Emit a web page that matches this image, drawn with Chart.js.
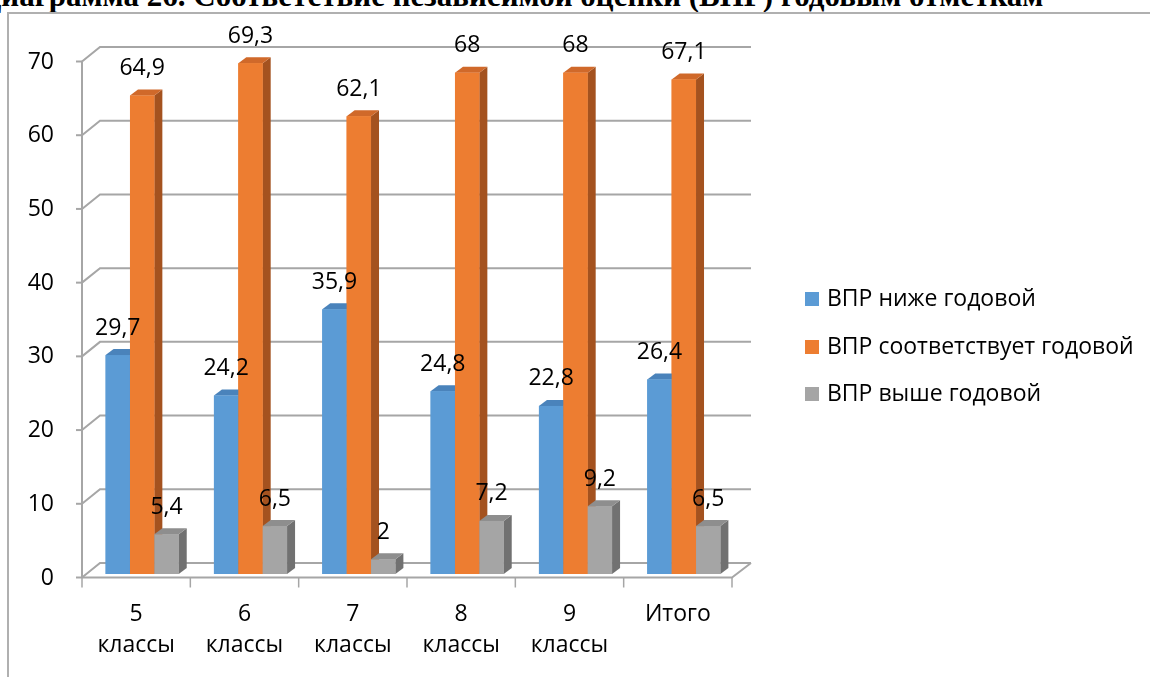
<!DOCTYPE html>
<html>
<head>
<meta charset="utf-8">
<script src="https://cdn.jsdelivr.net/npm/chart.js@4.4.0/dist/chart.umd.min.js"></script>
<style>
    html, body { margin: 0; padding: 0; background: #fff; overflow: hidden; }
    body { width: 1150px; height: 677px; position: relative; }
    #title {
        position: absolute; left: -20px; top: -20px; white-space: nowrap;
        font: bold 31px/31px "Liberation Serif", "Times New Roman", serif; color: #000;
    }
    #frame {
        position: absolute; left: 7px; top: 12px; width: 1200px; height: 700px;
        border-left: 2px solid #b0b0b0; border-top: 2px solid #b0b0b0;
    }
    #chart { position: absolute; left: 0; top: 0; }
</style>
</head>
<body>
<div id="title">Диаграмма 26. Соответствие независимой оценки (ВПР) годовым отметкам</div>
<div id="frame"></div>
<canvas id="chart" width="1150" height="677"></canvas>
<script>
// Chart data
const categories = [['5', 'классы'], ['6', 'классы'], ['7', 'классы'], ['8', 'классы'], ['9', 'классы'], 'Итого'];
const seriesNames = ['ВПР ниже годовой', 'ВПР соответствует годовой', 'ВПР выше годовой'];
const belowValues = [29.7, 24.2, 35.9, 24.8, 22.8, 26.4];
const matchValues = [64.9, 69.3, 62.1, 68, 68, 67.1];
const aboveValues = [5.4, 6.5, 2, 7.2, 9.2, 6.5];
const yMin = 0, yMax = 70, yStep = 10;

// front / top / side colours for the 3D look
const frontColors = ['#5b9bd5', '#ed7d31', '#a5a5a5'];
const topColors = ['#4a83bb', '#d0692a', '#8e8e8e'];
const sideColors = ['#3f72a3', '#a4521f', '#717171'];

const FONT = '"Open Sans", "DejaVu Sans", sans-serif';
const FONT_SIZE = 23;
const DEPTH_X = 8, DEPTH_Y = -6;      // depth of the bars
const BAR_SHIFT = 6;                  // bars sit a bit inside the floor
const FRONT_DY = 3.5, BACK_DX = 18, BACK_DY = -11;  // wall perspective
const GRID_COLOR = '#a6a6a6';

function formatValue(v) {
    return String(v).replace('.', ',');
}

const wallsPlugin = {
    id: 'walls',
    beforeDatasetsDraw(chart) {
        const { ctx, chartArea: a, scales: { y } } = chart;
        const backRight = a.right + 19;
        ctx.save();
        ctx.strokeStyle = GRID_COLOR;
        ctx.lineWidth = 2;
        y.ticks.forEach(t => {
            const py = y.getPixelForValue(t.value);
            ctx.beginPath();
            ctx.moveTo(a.left, py + FRONT_DY);
            ctx.lineTo(a.left + BACK_DX, py + BACK_DY);
            ctx.lineTo(backRight, py + BACK_DY);
            ctx.stroke();
            ctx.beginPath();
            ctx.moveTo(a.left - 6, py + FRONT_DY);
            ctx.lineTo(a.left, py + FRONT_DY);
            ctx.stroke();
        });
        const y0 = y.getPixelForValue(yMin);
        const yTop = y.getPixelForValue(yMax);
        // vertical axis
        ctx.beginPath();
        ctx.moveTo(a.left, yTop + FRONT_DY);
        ctx.lineTo(a.left, y0 + FRONT_DY);
        ctx.stroke();
        // floor front edge
        ctx.beginPath();
        ctx.moveTo(a.left, y0 + FRONT_DY);
        ctx.lineTo(a.right, y0 + FRONT_DY);
        ctx.lineTo(backRight, y0 + BACK_DY);
        ctx.stroke();
        // category ticks
        ctx.lineWidth = 1.5;
        const n = categories.length;
        for (let i = 0; i <= n; i++) {
            const px = a.left + i * (a.right - a.left) / n;
            ctx.beginPath();
            ctx.moveTo(px, y0 + FRONT_DY);
            ctx.lineTo(px, y0 + FRONT_DY + 10);
            ctx.stroke();
        }
        ctx.restore();

        ctx.save();
        ctx.translate(BAR_SHIFT, 0);
    },
    afterDatasetsDraw(chart) {
        const ctx = chart.ctx;
        const metas = chart.data.datasets.map((d, i) => chart.getDatasetMeta(i));
        // redraw bars category by category so the 3D faces overlap correctly
        for (let j = 0; j < categories.length; j++) {
            metas.forEach((meta, i) => {
                const el = meta.data[j];
                const left = el.x - el.width / 2, right = el.x + el.width / 2;
                const top = el.y, base = el.base;
                ctx.fillStyle = sideColors[i];
                ctx.beginPath();
                ctx.moveTo(right, top);
                ctx.lineTo(right + DEPTH_X, top + DEPTH_Y);
                ctx.lineTo(right + DEPTH_X, base + DEPTH_Y);
                ctx.lineTo(right, base);
                ctx.closePath();
                ctx.fill();
                ctx.fillStyle = topColors[i];
                ctx.beginPath();
                ctx.moveTo(left, top);
                ctx.lineTo(left + DEPTH_X, top + DEPTH_Y);
                ctx.lineTo(right + DEPTH_X, top + DEPTH_Y);
                ctx.lineTo(right, top);
                ctx.closePath();
                ctx.fill();
                ctx.fillStyle = frontColors[i];
                ctx.fillRect(left, top, right - left, base - top);
            });
        }
        // data labels
        ctx.fillStyle = '#000';
        ctx.font = FONT_SIZE + 'px ' + FONT;
        ctx.textAlign = 'center';
        ctx.textBaseline = 'middle';
        metas.forEach((meta, i) => {
            meta.data.forEach((el, j) => {
                const v = chart.data.datasets[i].data[j];
                ctx.fillText(formatValue(v), el.x, el.y - 27);
            });
        });
        ctx.restore();
    },
    afterDraw(chart) {
        // legend
        const ctx = chart.ctx;
        const legendY = [299, 347, 394];
        ctx.save();
        ctx.font = FONT_SIZE + 'px ' + FONT;
        ctx.textAlign = 'left';
        ctx.textBaseline = 'middle';
        seriesNames.forEach((name, i) => {
            ctx.fillStyle = frontColors[i];
            ctx.fillRect(805, legendY[i] - 7, 14, 14);
            ctx.fillStyle = '#000';
            ctx.fillText(name, 827, legendY[i]);
        });
        ctx.restore();
    }
};

const ctx = document.getElementById('chart');

new Chart(ctx, {
    type: 'bar',
    data: {
        labels: categories,
        datasets: [
            { label: seriesNames[0], data: belowValues, backgroundColor: frontColors[0] },
            { label: seriesNames[1], data: matchValues, backgroundColor: frontColors[1] },
            { label: seriesNames[2], data: aboveValues, backgroundColor: frontColors[2] }
        ]
    },
    options: {
        responsive: false,
        animation: false,
        categoryPercentage: 0.675,
        barPercentage: 1.0,
        layout: {
            padding: { left: 22, top: 58, right: 418, bottom: 0 }
        },
        scales: {
            x: {
                grid: { display: false },
                border: { display: false },
                afterFit: function(scale) { scale.height = 103; },
                ticks: {
                    color: '#000',
                    padding: 17,
                    maxRotation: 0,
                    autoSkip: false,
                    font: { family: FONT, size: FONT_SIZE, lineHeight: 1.35 }
                }
            },
            y: {
                min: yMin,
                max: yMax,
                grid: { display: false },
                border: { display: false },
                afterFit: function(scale) { scale.width = 60; },
                ticks: {
                    stepSize: yStep,
                    color: '#000',
                    padding: 20,
                    labelOffset: 4,
                    font: { family: FONT, size: FONT_SIZE }
                }
            }
        },
        plugins: {
            legend: { display: false },
            tooltip: { enabled: false }
        }
    },
    plugins: [wallsPlugin]
});
</script>
</body>
</html>
